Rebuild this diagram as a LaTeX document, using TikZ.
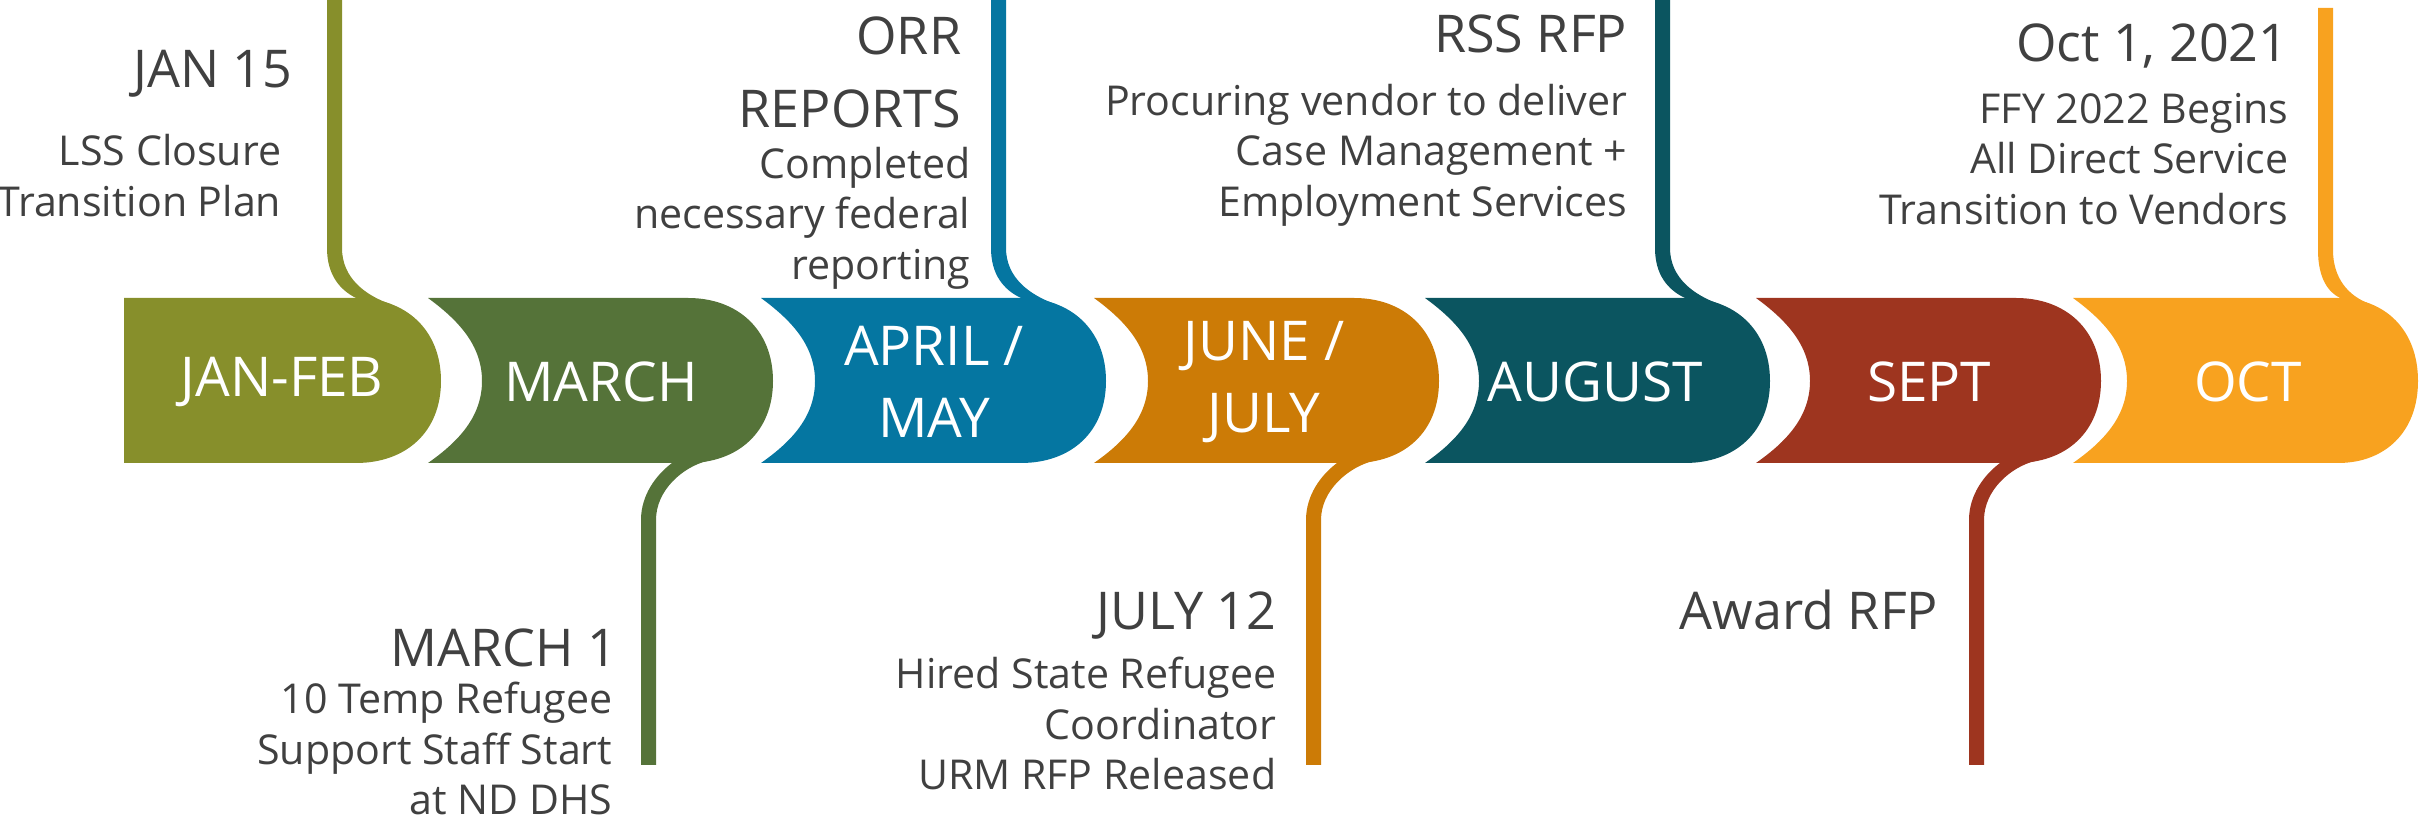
\documentclass[tikz,border=0pt]{standalone}
\usepackage{fontspec}
\setmainfont{Open Sans}
\definecolor{janfebc}{HTML}{878F2B}
\definecolor{marchc}{HTML}{557339}
\definecolor{aprilc}{HTML}{0576A1}
\definecolor{junec}{HTML}{CC7B06}
\definecolor{augustc}{HTML}{0B5560}
\definecolor{septc}{HTML}{9E351F}
\definecolor{octc}{HTML}{F8A21F}
\definecolor{ink}{HTML}{404040}

\begin{document}
\begin{tikzpicture}[x=0.01cm, y=-0.01cm,
    mon/.style={text=white, font=\fontsize{15.6}{20.5}\selectfont, align=center, inner sep=0pt},
    head/.style={text=ink, font=\fontsize{14.8}{20.8}\selectfont, align=right, anchor=base east, inner sep=0pt},
    note/.style={text=ink, font=\fontsize{11.7}{14.5}\selectfont, align=right, anchor=base east, inner sep=0pt}]
    \useasboundingbox (0,0) rectangle (2420,819);

    % month bands
    \fill[janfebc] (124,298) -- (356,298) .. controls (406,298) and (441,330) .. (441,381) .. controls (441,432) and (406,463) .. (356,463) -- (124,463) -- cycle;
    \fill[marchc] (428,298) -- (688,298) .. controls (738,298) and (773,330) .. (773,381) .. controls (773,432) and (738,463) .. (688,463) -- (428,463) .. controls (458,442) and (482,417) .. (482,381) .. controls (482,345) and (458,320) .. (428,298) -- cycle;
    \fill[aprilc] (761,298) -- (1021,298) .. controls (1071,298) and (1106,330) .. (1106,381) .. controls (1106,432) and (1071,463) .. (1021,463) -- (761,463) .. controls (791,442) and (815,417) .. (815,381) .. controls (815,345) and (791,320) .. (761,298) -- cycle;
    \fill[junec] (1094,298) -- (1354,298) .. controls (1404,298) and (1439,330) .. (1439,381) .. controls (1439,432) and (1404,463) .. (1354,463) -- (1094,463) .. controls (1124,442) and (1148,417) .. (1148,381) .. controls (1148,345) and (1124,320) .. (1094,298) -- cycle;
    \fill[augustc] (1425,298) -- (1685,298) .. controls (1735,298) and (1770,330) .. (1770,381) .. controls (1770,432) and (1735,463) .. (1685,463) -- (1425,463) .. controls (1455,442) and (1479,417) .. (1479,381) .. controls (1479,345) and (1455,320) .. (1425,298) -- cycle;
    \fill[septc] (1756,298) -- (2016,298) .. controls (2066,298) and (2101,330) .. (2101,381) .. controls (2101,432) and (2066,463) .. (2016,463) -- (1756,463) .. controls (1786,442) and (1810,417) .. (1810,381) .. controls (1810,345) and (1786,320) .. (1756,298) -- cycle;
    \fill[octc] (2073,298) -- (2338,298) .. controls (2385,298) and (2418,330) .. (2418,381) .. controls (2418,432) and (2385,463) .. (2338,463) -- (2073,463) .. controls (2103,442) and (2127,417) .. (2127,381) .. controls (2127,345) and (2103,320) .. (2073,298) -- cycle;

    % stems
    \fill[janfebc] (327,0) -- (327,248) .. controls (327,275) and (340,290) .. (356,298) -- (356,330) -- (390,330) -- (390,304) .. controls (365,295) and (342,278) .. (342,248) -- (342,0) -- cycle;
    \fill[aprilc] (991,0) -- (991,248) .. controls (991,275) and (1004,290) .. (1021,298) -- (1021,330) -- (1055,330) -- (1055,304) .. controls (1030,295) and (1006,278) .. (1006,248) -- (1006,0) -- cycle;
    \fill[augustc] (1655,0) -- (1655,248) .. controls (1655,275) and (1668,290) .. (1685,298) -- (1685,330) -- (1719,330) -- (1719,304) .. controls (1694,295) and (1670,278) .. (1670,248) -- (1670,0) -- cycle;
    \fill[octc] (2318,8) -- (2318,250) .. controls (2318,278) and (2328,292) .. (2340,298) -- (2340,330) -- (2370,330) -- (2370,304) .. controls (2348,296) and (2333,278) .. (2333,250) -- (2333,8) -- cycle;
    \fill[marchc] (641,765) -- (641,520) .. controls (641,495) and (656,475) .. (672,463) -- (672,440) -- (707,440) -- (707,461) .. controls (683,467) and (656,490) .. (656,520) -- (656,765) -- cycle;
    \fill[junec] (1306,765) -- (1306,520) .. controls (1306,495) and (1321,475) .. (1337,463) -- (1337,440) -- (1373,440) -- (1373,461) .. controls (1349,467) and (1321,490) .. (1321,520) -- (1321,765) -- cycle;
    \fill[septc] (1969,765) -- (1969,520) .. controls (1969,495) and (1984,475) .. (2000,463) -- (2000,440) -- (2035,440) -- (2035,461) .. controls (2011,467) and (1984,490) .. (1984,520) -- (1984,765) -- cycle;

    \node[mon] (janfeb) at (282,382) {JAN-FEB};
    \node[mon] (march) at (601,382) {MARCH};
    \node[mon] (aprmay) at (934,382) {APRIL /\\MAY};
    \node[mon] (junjul) at (1264,382) {JUNE /\\JULY};
    \node[mon] (august) at (1595,382) {AUGUST};
    \node[mon] (sept) at (1929,382) {SEPT};
    \node[mon] (oct) at (2248,382) {OCT};

    % multi-line texts sit on their last line
    \node[head] (jan15) at (293,88) {JAN 15};
    \node[note] (jan15txt) at (282,217) {LSS Closure\\Transition Plan};
    \node[head] (orr) at (962,128) {ORR\\REPORTS};
    \node[note] (orrtxt) at (971,280) {Completed\\necessary federal\\reporting};
    \node[head] (rss) at (1628,53) {RSS RFP};
    \node[note] (rsstxt) at (1628,217) {Procuring vendor to deliver\\Case Management +\\Employment Services};
    \node[head] (oct1) at (2289,62) {Oct 1, 2021};
    \node[note] (oct1txt) at (2289,225) {FFY 2022 Begins\\All Direct Service\\Transition to Vendors};
    \node[head] (mar1) at (618,667) {MARCH 1};
    \node[note] (mar1txt) at (613,815) {10 Temp Refugee\\Support Staff Start\\at ND DHS};
    \node[head] (jul12) at (1277,630) {JULY 12};
    \node[note] (jul12txt) at (1277,790) {Hired State Refugee\\Coordinator\\URM RFP Released};
    \node[head] (award) at (1939,630) {Award RFP};
\end{tikzpicture}
\end{document}
